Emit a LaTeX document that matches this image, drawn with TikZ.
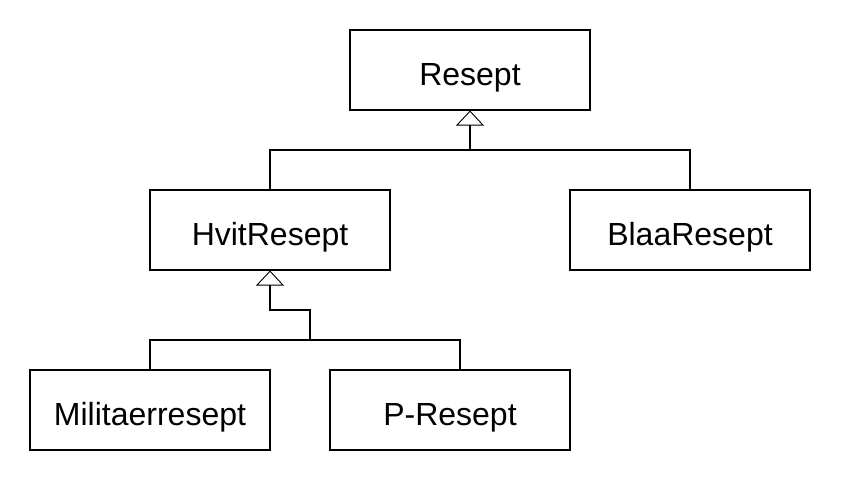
\documentclass[tikz,border=0pt]{standalone}
\usepackage{fontspec}
\setmainfont{Liberation Sans}
\usetikzlibrary{arrows.meta}

\begin{document}
\begin{tikzpicture}[x=1pt,y=-1pt,line width=1.1pt,
  inherit/.style={-{Triangle[open,length=15pt,width=28pt,line width=0.9pt]}}]
\tikzstyle{every node}=[draw,rectangle,minimum width=240pt,minimum height=80pt,
  inner sep=0pt,text height=31pt,text depth=0pt,font=\fontsize{32}{38}\selectfont];
\useasboundingbox (0,0) rectangle (841,481);
% classes
    \node (resept) at (470,70) {Resept};
    \node (hvit) at (270,230) {HvitResept};
    \node (blaa) at (690,230) {BlaaResept};
    \node (mil) at (150,410) {Militaerresept};
    \node (p) at (450,410) {P-Resept};
% joints
    \coordinate (j1) at (470,150);
    \coordinate (j2) at (310,340);
    \coordinate (j3) at (270,310);
% generalisation
    \draw[inherit] (j1) -- (resept.south);
    \draw (hvit.north) |- (j1) -| (blaa.north);
    \draw[inherit] (j2) |- (j3) -- (hvit.south);
    \draw (mil.north) |- (j2) -| ([xshift=10pt]p.north);
\end{tikzpicture}
\end{document}
